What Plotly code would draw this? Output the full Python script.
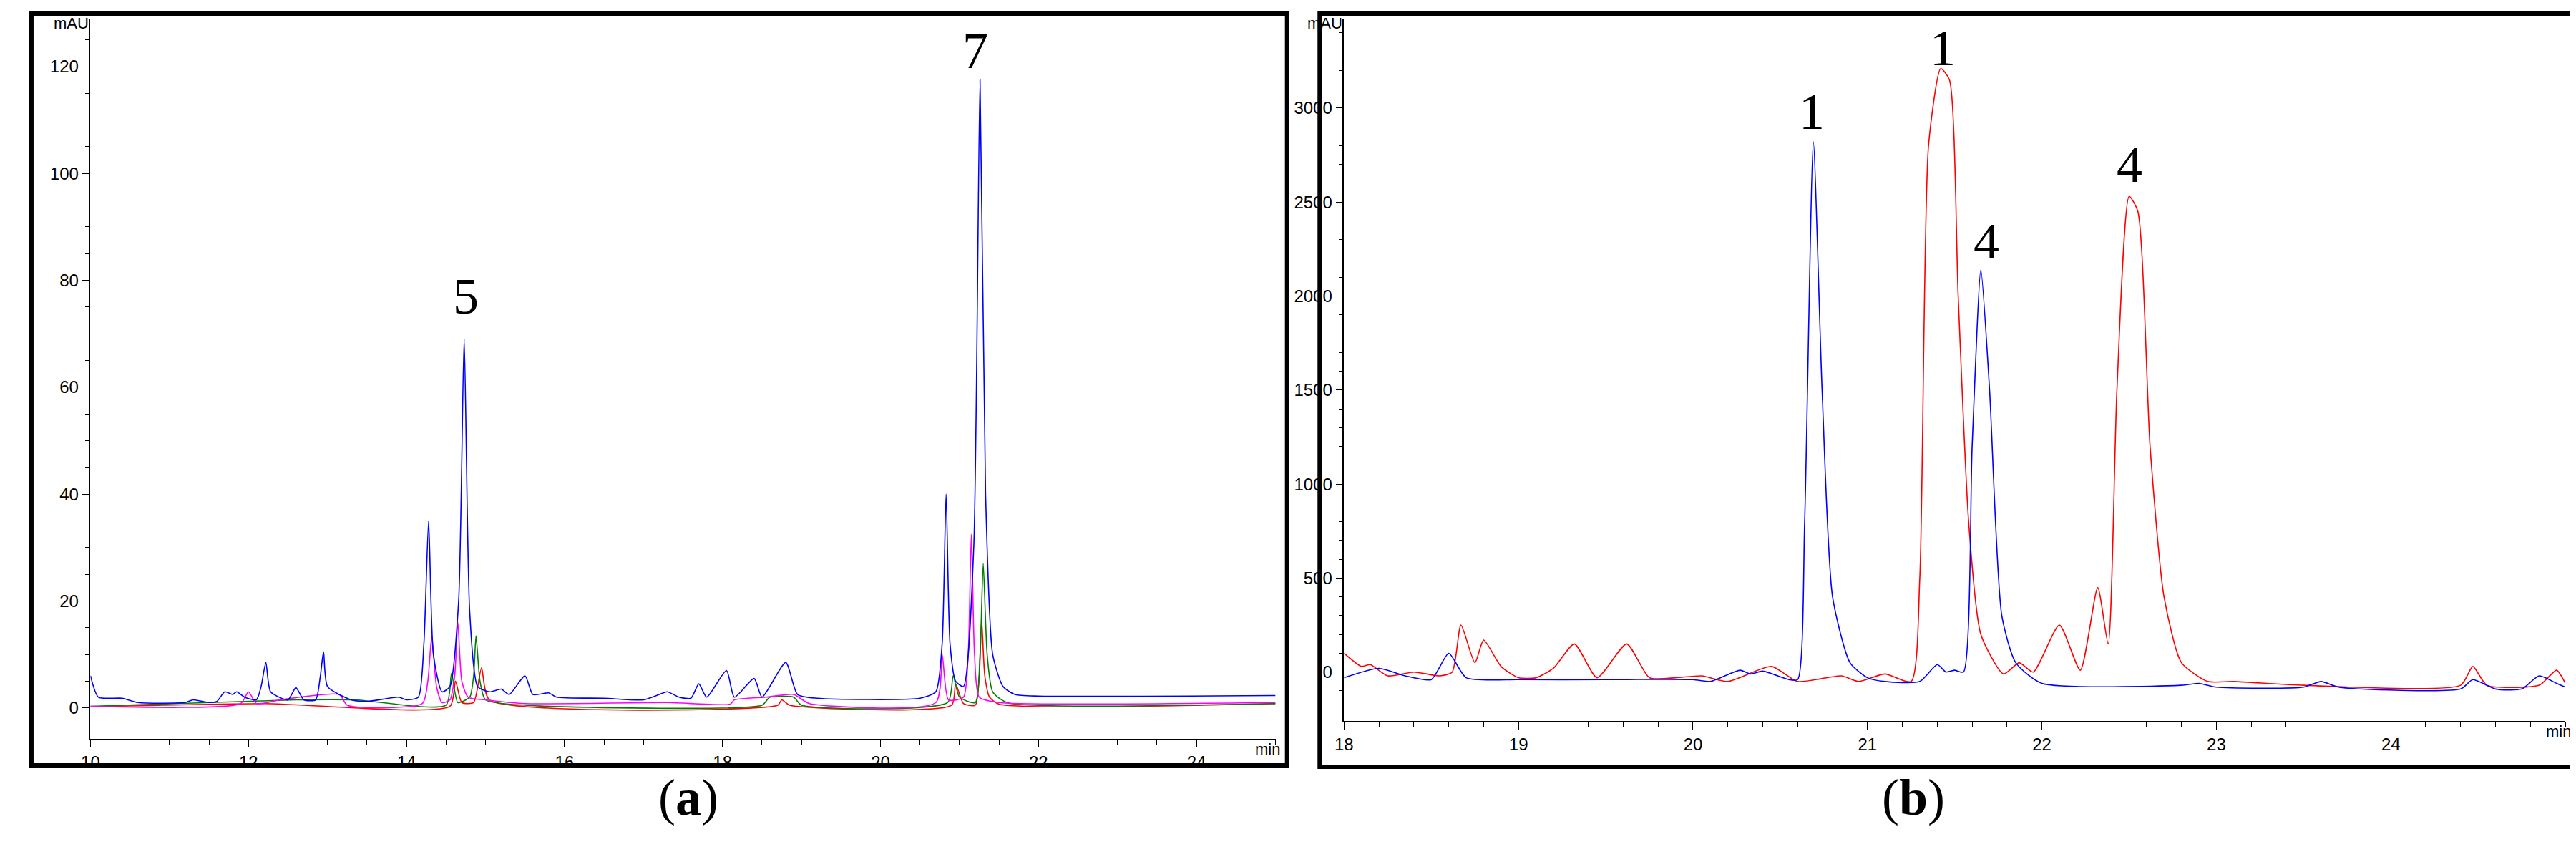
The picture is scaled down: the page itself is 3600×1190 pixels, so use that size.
import plotly.graph_objects as go

# ---- Panel (a) traces: retention time (min), absorbance (mAU)
a_blue_t = [10.0,10.1,10.4,10.6,11.2,11.3,11.5,11.6,11.7,11.8,11.85,11.95,12.1,12.16,12.22,12.28,12.5,12.6,12.7,12.85,12.91,12.95,13.0,13.3,13.5,13.9,14.0,14.15,14.22,14.28,14.34,14.45,14.55,14.66,14.73,14.8,14.9,15.05,15.2,15.3,15.5,15.6,15.8,15.9,16.5,17.0,17.2,17.3,17.45,17.6,17.7,17.8,18.05,18.15,18.4,18.5,18.8,18.95,19.2,20.5,20.7,20.78,20.83,20.88,20.95,21.05,21.18,21.26,21.33,21.42,21.55,21.7,22.0,25.0]
a_blue_y = [6,2,1.8,1,1,1.5,1,1.2,3,2.5,3,2,1.5,4,8.5,3,1.5,3.8,1.5,1.5,6,10.5,4,1.5,1.2,2,1.5,2,12,35,10,3,4,20,69,18,4,3,3.5,2.5,6,2.5,2.8,2,1.8,1.5,2.5,3,2,1.8,4.5,2,7,2,5.5,2,8.5,2.5,1.8,1.8,3,12,40,12,5,4,30,117.5,40,10,4,2.5,2.2,2.3]
a_mag_t = [10.0,11.9,12.0,12.1,12.4,13.15,13.25,14.2,14.27,14.32,14.38,14.45,14.55,14.61,14.65,14.7,14.78,15.0,15.5,17.3,18.1,18.15,18.55,18.9,19.1,20.7,20.78,20.86,21.05,21.11,21.15,21.19,21.25,21.5,25.0]
a_mag_y = [0.3,0.8,3,0.8,1.5,2.5,0.5,0.8,5,13.5,4,1,1.5,6,16,5,2,1.5,0.8,1,0.7,1.5,2,2.5,0.8,1,10,1.5,2,10,32.5,10,2,1,1]
a_grn_t = [10.0,12.6,13.35,14.5,14.57,14.65,14.8,14.85,14.88,14.93,15.0,15.5,18.5,18.6,18.9,19.0,20.85,20.92,21.0,21.2,21.26,21.3,21.35,21.42,21.6,25.0]
a_grn_y = [0.3,1.5,1.5,0.5,6.5,1,2,6,13.5,5,1.5,0.5,0.5,2,2,0.5,1,6,2,1,10,27,10,3,1,0.8]
a_red_t = [10.0,12.2,14.55,14.62,14.7,14.85,14.95,15.05,18.7,18.75,18.85,20.9,20.95,21.05,21.2,21.25,21.28,21.32,21.38,21.5,25.0]
a_red_y = [0.2,0.8,0.3,5,1,1,7.5,1.5,0.5,1.5,0.5,0.5,4.5,0.8,0.5,6,16.5,6,2,0.7,0.8]

# ---- Panel (b) traces
b_blue_t = [18.0,18.2,18.35,18.5,18.6,18.7,19.0,19.5,20.0,20.1,20.27,20.33,20.4,20.55,20.6,20.64,20.69,20.74,20.8,20.9,21.0,21.1,21.3,21.4,21.45,21.5,21.55,21.6,21.65,21.7,21.77,21.85,22.0,22.8,22.9,23.0,23.5,23.6,23.7,24.4,24.47,24.6,24.75,24.85,24.95,25.0]
b_blue_y = [-30,20,-20,-40,100,-30,-40,-40,-40,-50,10,-10,5,-40,-40,800,2820,1500,400,50,-30,-50,-50,40,0,10,0,1200,2140,1500,300,50,-60,-70,-60,-80,-80,-50,-80,-90,-40,-90,-90,-20,-60,-80]
b_red_t = [18.0,18.1,18.15,18.25,18.4,18.55,18.62,18.67,18.75,18.8,18.9,19.0,19.1,19.2,19.32,19.45,19.62,19.75,19.9,20.05,20.2,20.45,20.6,20.85,20.95,21.1,21.25,21.3,21.35,21.42,21.47,21.52,21.58,21.65,21.78,21.87,21.95,22.1,22.22,22.32,22.38,22.43,22.5,22.55,22.62,22.7,22.8,22.95,23.1,23.5,24.4,24.47,24.55,24.85,24.95,25.0]
b_red_y = [100,30,40,-20,0,-20,0,250,50,170,30,-30,-30,20,150,-30,150,-30,-30,-20,-50,30,-50,-20,-50,-10,-50,500,2800,3210,3150,2000,800,200,-10,50,0,250,10,450,150,1500,2530,2450,1200,400,50,-50,-50,-70,-70,30,-70,-70,10,-60]

a_labels = [("5", 14.75, 77), ("7", 21.2, 123)]
b_labels = [("1", 20.68, 2980), ("1", 21.43, 3320), ("4", 21.68, 2290), ("4", 22.5, 2700)]

fig = go.Figure()
def tr(t, y, c, xa, ya):
    fig.add_trace(go.Scatter(x=t, y=y, mode="lines", line=dict(color=c, width=1.6, shape="spline", smoothing=0.6),
                             xaxis=xa, yaxis=ya, showlegend=False))
tr(a_red_t, a_red_y, "#ff0000", "x", "y")
tr(a_grn_t, a_grn_y, "#008000", "x", "y")
tr(a_mag_t, a_mag_y, "#ff00ff", "x", "y")
tr(a_blue_t, a_blue_y, "#0000ff", "x", "y")
tr(b_red_t, b_red_y, "#ff0000", "x2", "y2")
tr(b_blue_t, b_blue_y, "#0000ff", "x2", "y2")

ax = dict(showgrid=False, zeroline=False, showline=True, linecolor="black", linewidth=1.5,
          ticks="outside", ticklen=10, tickcolor="black",
          tickfont=dict(family="Liberation Sans", size=24, color="black"))
fig.update_layout(
    width=3600, height=1190, margin=dict(l=0, r=0, t=0, b=0),
    paper_bgcolor="white", plot_bgcolor="white",
    xaxis=dict(**ax, domain=[0.0294, 0.4911], range=[10, 25], tickvals=[10,12,14,16,18,20,22,24],
               minor=dict(dtick=0.5, ticks="outside", ticklen=6, tickcolor="black"), anchor="y"),
    yaxis=dict(**ax, domain=[0.1395, 0.985], range=[-5.8, 129], tickvals=[0,20,40,60,80,100,120],
               minor=dict(dtick=5, ticks="outside", ticklen=6, tickcolor="black"), anchor="x"),
    xaxis2=dict(**ax, domain=[0.5178, 0.9936], range=[18, 25], tickvals=[18,19,20,21,22,23,24],
                minor=dict(dtick=0.2, ticks="outside", ticklen=6, tickcolor="black"), anchor="y2"),
    yaxis2=dict(**ax, domain=[0.1605, 0.985], range=[-260, 3476], tickvals=[0,500,1000,1500,2000,2500,3000],
                minor=dict(dtick=100, ticks="outside", ticklen=6, tickcolor="black"), anchor="x2"),
)

ann = []
for txt, x, y in a_labels:
    ann.append(dict(text=txt, x=x, y=y, xref="x", yref="y", showarrow=False,
                    font=dict(family="Liberation Serif", size=72, color="black")))
for txt, x, y in b_labels:
    ann.append(dict(text=txt, x=x, y=y, xref="x2", yref="y2", showarrow=False,
                    font=dict(family="Liberation Serif", size=72, color="black")))
small = dict(family="Liberation Sans", size=22, color="black")
ann += [
    dict(text="mAU", x=0.0294, y=0.992, xref="paper", yref="paper", xanchor="right", yanchor="top", showarrow=False, font=small),
    dict(text="mAU", x=0.5178, y=0.992, xref="paper", yref="paper", xanchor="right", yanchor="top", showarrow=False, font=small),
    dict(text="min", x=0.4935, y=0.1395, xref="paper", yref="paper", xanchor="right", yanchor="top", showarrow=False, font=small),
    dict(text="min", x=0.9965, y=0.1605, xref="paper", yref="paper", xanchor="right", yanchor="top", showarrow=False, font=small),
    dict(text="(<b>a</b>)", x=0.25, y=0.035, xref="paper", yref="paper", showarrow=False,
         font=dict(family="Liberation Serif", size=72, color="black")),
    dict(text="(<b>b</b>)", x=0.7525, y=0.035, xref="paper", yref="paper", showarrow=False,
         font=dict(family="Liberation Serif", size=72, color="black")),
]
fig.update_layout(annotations=ann, shapes=[
    dict(type="rect", xref="paper", yref="paper", x0=0.0064, x1=0.4956, y0=0.1084, y1=0.9908, line=dict(color="black", width=6)),
    dict(type="rect", xref="paper", yref="paper", x0=0.5083, x1=0.998, y0=0.1067, y1=0.9908, line=dict(color="black", width=6)),
])
fig.write_html("out.html")
